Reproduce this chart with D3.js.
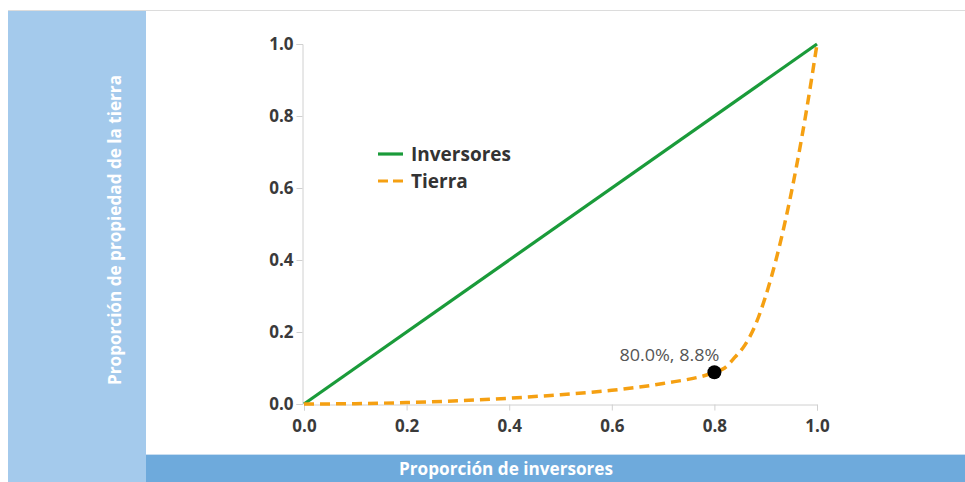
<!DOCTYPE html>
<html>
<head>
<meta charset="utf-8">
<script src="https://cdn.jsdelivr.net/npm/d3@7"></script>
<style>
  html, body { margin: 0; padding: 0; background: #fff; }
  svg { display: block; }
</style>
</head>
<body>
<svg id="chart" width="965" height="482"></svg>
<script>
// Cumulative share of investors (x) vs cumulative share of land owned (y)
const shareInvestors = [0, 0.1, 0.2, 0.3, 0.4, 0.5, 0.6, 0.7, 0.8, 0.82, 0.84, 0.86, 0.88, 0.9, 0.92, 0.94, 0.96, 0.98, 1.0];
const shareLand      = [0, 0.001, 0.004, 0.009, 0.016, 0.026, 0.038, 0.057, 0.088, 0.10, 0.13, 0.165, 0.22, 0.30, 0.40, 0.52, 0.66, 0.82, 1.0];
// Line of equality
const equalityX = [0, 1];
const equalityY = [0, 1];
// Highlighted point
const markX = 0.8;
const markY = 0.088;
const xTickValues = [0, 0.2, 0.4, 0.6, 0.8, 1.0];
const yTickValues = [0, 0.2, 0.4, 0.6, 0.8, 1.0];
const seriesNames = ["Inversores", "Tierra"];
const xTitle = "Proporción de inversores";
const yTitle = "Proporción de propiedad de la tierra";

const green = "#1a9b3a";
const orange = "#f5a012";

const svg = d3.select("#chart");

// Background panels
svg.append("line").attr("x1", 8).attr("x2", 965).attr("y1", 10.5).attr("y2", 10.5)
  .attr("stroke", "#dcdcdc").attr("stroke-width", 1);
svg.append("rect").attr("x", 8).attr("y", 11).attr("width", 138).attr("height", 471)
  .attr("fill", "#a4caec");
svg.append("rect").attr("x", 146).attr("y", 454).attr("width", 819).attr("height", 28)
  .attr("fill", "#6eaadc");
svg.append("line").attr("x1", 146).attr("x2", 965).attr("y1", 454.5).attr("y2", 454.5)
  .attr("stroke", "#c9def1").attr("stroke-width", 1);

// Axis titles
svg.append("text")
  .attr("transform", "translate(121,230) rotate(-90)")
  .attr("text-anchor", "middle")
  .attr("font-family", "'Open Sans', sans-serif")
  .attr("font-weight", 700)
  .attr("font-size", 17)
  .attr("fill", "#fff")
  .attr("textLength", 310).attr("lengthAdjust", "spacingAndGlyphs")
  .text(yTitle);

svg.append("text")
  .attr("x", 506).attr("y", 475)
  .attr("text-anchor", "middle")
  .attr("font-family", "'Open Sans', sans-serif")
  .attr("font-weight", 700)
  .attr("font-size", 17)
  .attr("fill", "#fff")
  .attr("textLength", 214).attr("lengthAdjust", "spacingAndGlyphs")
  .text(xTitle);

// Scales
const x = d3.scaleLinear().domain([0, 1]).range([304, 817]);
const y = d3.scaleLinear().domain([0, 1]).range([404, 44]);

// Axes
const xAxis = svg.append("g").attr("transform", `translate(0,${y(0) + 0.5})`)
  .call(d3.axisBottom(x).tickValues(xTickValues).tickFormat(d3.format(".1f")).tickSize(6).tickPadding(9));
const yAxis = svg.append("g").attr("transform", `translate(${x(0) - 1.5},0)`)
  .call(d3.axisLeft(y).tickValues(yTickValues).tickFormat(d3.format(".1f")).tickSize(6).tickPadding(3));

[xAxis, yAxis].forEach(g => {
  g.select(".domain").attr("stroke", "#d0d0d0");
  g.selectAll(".tick line").attr("stroke", "#d0d0d0");
  g.selectAll(".tick text")
    .attr("font-family", "'Open Sans', sans-serif")
    .attr("font-weight", 700)
    .attr("font-size", 17)
    .attr("fill", "#3a3a3a");
});

// Equality line
const line = d3.line().x(d => x(d[0])).y(d => y(d[1]));
svg.append("path")
  .datum(d3.zip(equalityX, equalityY))
  .attr("d", line)
  .attr("fill", "none")
  .attr("stroke", green)
  .attr("stroke-width", 3.2);

// Land distribution curve
const curve = d3.line().x(d => x(d[0])).y(d => y(d[1])).curve(d3.curveMonotoneX);
svg.append("path")
  .datum(d3.zip(shareInvestors, shareLand))
  .attr("d", curve)
  .attr("fill", "none")
  .attr("stroke", orange)
  .attr("stroke-width", 3.5)
  .attr("stroke-dasharray", "10,6");

// Highlighted point and its label
svg.append("circle")
  .attr("cx", x(markX)).attr("cy", y(markY)).attr("r", 7)
  .attr("fill", "#000");
svg.append("text")
  .attr("x", x(markX) + 5).attr("y", y(markY) - 11)
  .attr("text-anchor", "end")
  .attr("font-family", "'Open Sans', sans-serif")
  .attr("font-size", 17)
  .attr("fill", "#555")
  .attr("textLength", 100).attr("lengthAdjust", "spacingAndGlyphs")
  .text(`${d3.format(".1f")(markX * 100)}%, ${d3.format(".1f")(markY * 100)}%`);

// Legend
const legend = svg.append("g").attr("transform", "translate(378,154)");
const legendStyles = [
  { color: green, dash: null },
  { color: orange, dash: "10,5" }
];
seriesNames.forEach((name, i) => {
  const row = legend.append("g").attr("transform", `translate(0,${i * 27})`);
  row.append("line")
    .attr("x1", 0).attr("x2", 25).attr("y1", 0).attr("y2", 0)
    .attr("stroke", legendStyles[i].color)
    .attr("stroke-width", 3.2)
    .attr("stroke-dasharray", legendStyles[i].dash);
  row.append("text")
    .attr("x", 33).attr("y", 6.5)
    .attr("font-family", "'Open Sans', sans-serif")
    .attr("font-weight", 700)
    .attr("font-size", 19)
    .attr("fill", "#333")
    .text(name);
});
</script>
</body>
</html>
